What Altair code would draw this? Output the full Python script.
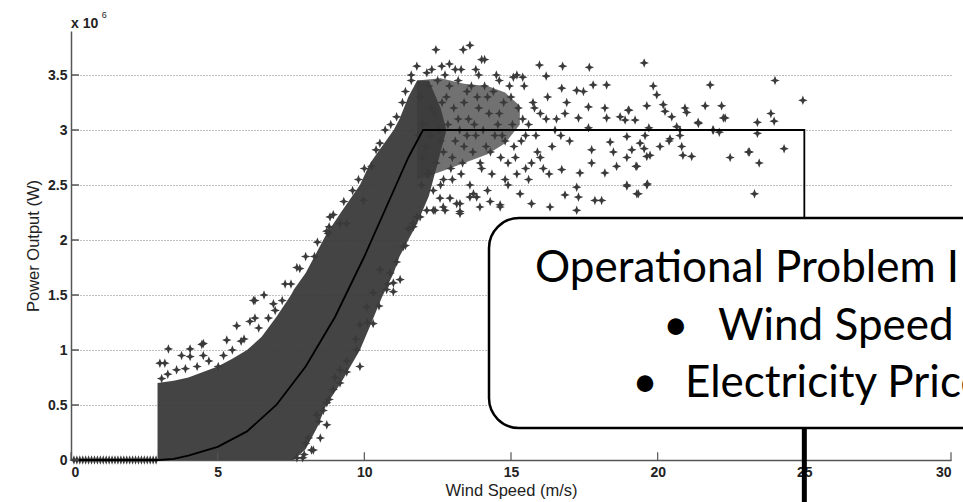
import altair as alt
import pandas as pd

# ---------------- data (power in units of 10^6 W) ----------------
x_ticks = [0, 5, 10, 15, 20, 25, 30]
y_ticks = [0, 0.5, 1, 1.5, 2, 2.5, 3, 3.5]

# manufacturer power curve
curve_x = [0, 3, 3.5, 4, 5, 6, 7, 8, 9, 10, 11, 11.5, 12, 25, 25]
curve_y = [0, 0, 0.01, 0.04, 0.12, 0.26, 0.5, 0.85, 1.3, 1.85, 2.45, 2.75, 3.0, 3.0, 0]

# dense core of the measured cloud (lower / upper edge per wind speed)
core_x = [2.95, 3.5, 4.0, 4.5, 5.0, 5.5, 6.0, 6.5, 7.0, 7.5, 7.6, 8.0, 8.4, 8.7, 9.2, 9.85, 10.2, 10.6, 11.0, 11.2, 11.5, 11.8, 12.2, 12.6, 12.8]
core_lo = [0, 0, 0, 0, 0, 0, 0, 0, 0, 0, 0, 0.1, 0.3, 0.5, 0.7, 1.0, 1.22, 1.48, 1.7, 1.85, 2.0, 2.15, 2.4, 2.8, 3.0]
core_hi = [0.7, 0.72, 0.75, 0.8, 0.85, 0.92, 1.0, 1.12, 1.3, 1.5, 1.55, 1.7, 1.9, 2.05, 2.25, 2.5, 2.7, 2.85, 3.0, 3.1, 3.3, 3.45, 3.45, 3.2, 3.0]

# looser cluster above rated power
clus_x = [11.8, 12.6, 13.4, 14.2, 14.8, 15.3]
clus_lo = [2.55, 2.62, 2.7, 2.78, 2.88, 3.05]
clus_hi = [3.45, 3.47, 3.42, 3.4, 3.34, 3.22]

# individual measurements around the cloud
pts_x = [
    0.1, 0.2, 0.3, 0.4, 0.5, 0.6, 0.7, 0.8, 0.9, 1.0, 1.1, 1.2, 1.3, 1.4, 1.5, 1.6, 1.7, 1.8, 1.9,
    2.0, 2.1, 2.2, 2.3, 2.4, 2.5, 2.6, 2.7, 2.8, 2.9,
    3.03, 3.2, 3.32, 3.09, 3.77, 4.06, 4.06, 4.46, 4.51, 5.02, 5.31, 5.65, 6.1, 6.27, 6.58,
    6.27, 6.73, 6.96, 6.22, 7.8, 4.51, 3.6, 4.3, 5.5, 5.9, 7.2, 7.5,
    7.7, 8.2, 8.26, 8.38, 8.72, 8.72, 8.94, 9.17, 9.17, 9.74, 9.85, 9.85, 10.3, 10.08, 10.3,
    10.76, 10.99, 11.22, 10.53, 10.88, 10.99, 11.33, 8.0, 7.95, 8.5, 9.4, 8.6,
    8.83, 9.17, 8.72, 9.97, 8.94, 8.77, 9.4, 10.25, 10.53, 10.71, 11.1, 11.79, 12.13, 12.64,
    8.3, 9.6, 10.0, 11.4, 11.6,
    3.3, 3.9, 4.7, 5.2, 5.8, 6.4, 6.9, 7.3, 7.7, 8.0, 8.4, 8.8, 9.3, 9.8, 10.4, 10.9, 11.3, 11.6,
    7.9, 8.1, 8.45, 8.8, 9.0, 9.4, 9.7, 10.1, 10.5, 10.8, 11.1, 11.4, 11.5,
    11.67, 11.66, 11.79, 11.9, 12.13, 12.35, 12.41, 12.58, 12.69, 12.75, 12.92, 13.15, 13.26,
    13.26, 13.26, 13.6, 13.72, 13.83, 13.94, 14.29, 14.63, 14.63, 15.31, 15.7, 16.33,
    12.44, 13.37, 13.6, 14.0, 14.1, 15.08, 15.4, 15.97, 16.2, 16.76, 17.67, 12.9, 13.1, 14.5, 13.8,
    16.73, 17.24, 17.47, 17.8, 18.26, 17.64, 18.2, 18.26, 18.72, 19.0, 17.3, 16.84, 17.64, 18.38,
    18.49, 17.75, 17.75, 17.35, 16.73, 18.2, 18.6, 19.29, 19.63, 18.95, 19.29, 17.24, 16.84, 17.3,
    17.86, 18.09, 17.24, 16.3, 16.0, 15.6, 16.5, 17.0, 15.2, 14.8,
    19.54, 19.85, 19.97, 21.79, 24.0, 24.95, 19.63, 20.19, 20.25, 20.48, 20.93, 20.99, 21.62,
    22.18, 22.3, 21.38, 20.65, 19.7, 19.23, 18.89, 19.02, 21.88, 22.1, 23.4, 23.86, 23.97, 23.4,
    20.76, 18.95, 19.57, 19.12, 19.54, 20.08, 20.39, 20.82, 20.86, 21.16, 19.63, 19.74, 18.95,
    19.26, 22.47, 23.13, 23.46, 24.31, 18.95, 19.65, 19.34, 23.3, 23.09, 22.24, 21.39, 21.9,
    20.76, 20.42, 19.4,
    12.3, 12.8, 13.2, 13.5, 13.9, 14.2, 14.6, 15.0, 15.4, 15.8, 12.6, 13.0, 13.4, 13.8, 14.3,
    14.7, 15.1, 15.5, 15.9, 16.2, 12.2, 12.7, 13.3, 14.0, 14.9,
    11.9, 12.0, 12.1, 12.2, 12.25, 12.4, 12.45, 12.5, 12.55, 12.65, 12.7, 12.85, 12.9, 12.95,
    13.05, 13.1, 13.2, 13.25, 13.35, 13.4, 13.5, 13.55, 13.65, 13.7, 13.75, 13.85, 13.95, 14.05,
    14.1, 14.15, 14.25, 14.35, 14.4, 14.45, 14.55, 14.65, 14.75, 14.8, 14.95, 15.05, 15.15, 15.25,
    15.35, 15.45, 15.6, 15.7, 15.75, 15.85, 16.0, 16.1, 16.25, 16.4, 16.55, 16.7, 16.9,
    12.15, 12.6, 13.0, 13.6, 14.2, 14.9, 15.5, 11.95, 12.35, 12.0, 11.85, 12.3, 12.75, 13.3,
    13.9, 14.6, 15.2,
]
pts_y = [
    0, 0, 0, 0, 0, 0, 0, 0, 0, 0, 0, 0, 0, 0, 0, 0, 0, 0, 0,
    0, 0, 0, 0, 0, 0, 0, 0, 0, 0,
    0.88, 0.88, 1.01, 0.74, 0.95, 1.01, 0.94, 1.05, 0.95, 0.85, 1.09, 1.22, 1.26, 1.45, 1.5,
    1.29, 1.29, 1.36, 1.45, 1.74, 1.06, 0.82, 0.85, 1.0, 1.1, 1.45, 1.6,
    0.02, 0.09, 0.09, 0.41, 0.32, 0.52, 0.64, 0.82, 0.7, 1.0, 1.23, 0.85, 1.24, 1.39, 1.52,
    1.55, 1.53, 1.64, 1.73, 1.7, 1.61, 1.94, 0.15, 0.05, 0.2, 0.9, 0.45,
    2.21, 2.15, 2.08, 2.36, 2.23, 2.06, 2.15, 2.67, 2.88, 3.0, 3.12, 3.58, 3.52, 3.58,
    1.85, 2.45, 2.65, 3.35, 3.45,
    0.78, 0.83, 0.9, 0.95, 1.08, 1.2, 1.42, 1.6, 1.75, 1.85, 1.98, 2.12, 2.35, 2.55, 2.82, 3.05, 3.25, 3.5,
    0.02, 0.2, 0.35, 0.55, 0.75, 0.8, 1.1, 1.25, 1.4, 1.6, 1.8, 1.95, 2.1,
    2.12, 2.15, 2.21, 2.21, 2.27, 2.27, 2.27, 2.38, 2.3, 2.27, 2.38, 2.33, 2.24,
    2.26, 2.33, 2.39, 2.42, 2.39, 2.3, 2.35, 2.32, 2.3, 2.42, 2.33, 2.3,
    3.73, 3.73, 3.77, 3.64, 3.64, 3.48, 3.48, 3.59, 3.49, 3.58, 3.57, 3.6, 3.55, 3.5, 3.55,
    3.38, 3.36, 3.35, 3.41, 3.41, 3.21, 3.2, 3.11, 3.12, 3.18, 3.11, 3.15, 3.02, 2.89,
    2.8, 2.82, 2.7, 2.61, 2.64, 2.61, 2.67, 2.67, 2.5, 2.5, 2.42, 2.48, 2.41, 2.39,
    2.36, 2.36, 2.27, 2.6, 2.75, 2.55, 3.0, 2.9, 2.6, 2.55,
    3.61, 3.40, 3.32, 3.41, 3.45, 3.27, 3.22, 3.23, 3.17, 3.12, 3.2, 3.16, 3.22,
    3.22, 3.11, 3.07, 3.03, 3.02, 3.09, 3.09, 3.18, 3.0, 2.98, 3.07, 3.15, 3.08, 2.97,
    2.95, 2.94, 2.95, 2.82, 2.83, 2.85, 2.9, 2.85, 2.77, 2.76, 2.76, 2.77, 2.75,
    2.67, 2.75, 2.8, 2.7, 2.83, 2.49, 2.51, 2.42, 2.42, 2.8, 3.11, 3.06, 3.0,
    3.0, 2.92, 2.88,
    3.2, 3.3, 3.1, 3.35, 3.2, 3.3, 3.15, 3.3, 3.1, 3.2, 2.9, 2.75, 2.85, 2.95, 2.8,
    2.95, 2.85, 2.95, 2.8, 3.1, 2.6, 2.55, 2.6, 2.65, 2.7,
    3.3, 3.05, 2.85, 3.4, 2.95, 3.15, 2.7, 3.45, 3.0, 3.25, 2.8, 3.05, 3.4, 2.65,
    3.2, 2.9, 3.45, 3.0, 2.7, 3.25, 2.95, 3.1, 3.4, 2.8, 3.05, 3.3, 2.7, 3.0,
    3.4, 2.85, 3.15, 2.6, 3.35, 2.95, 3.05, 2.75, 3.25, 2.9, 3.4, 3.05, 2.75, 3.2,
    2.9, 3.4, 3.05, 2.7, 3.25, 2.95, 3.15, 2.65, 3.3, 2.85, 3.1, 2.95, 3.25,
    2.6, 2.5, 2.55, 2.5, 2.45, 2.5, 2.65, 2.5, 2.45, 2.75, 2.95, 3.55, 3.5, 3.55,
    3.5, 3.45, 3.5,
]

callout_title = "Operational Problem I"
callout_items = ["Wind Speed", "Electricity Price"]

# ---------------- tables ----------------
curve_df = pd.DataFrame({"x": curve_x, "y": curve_y, "i": list(range(len(curve_x)))})
core_df = pd.DataFrame({"x": core_x, "lo": core_lo, "hi": core_hi})
clus_df = pd.DataFrame({"x": clus_x, "lo": clus_lo, "hi": clus_hi})
pts_df = pd.DataFrame({"x": pts_x, "y": pts_y})
xt_df = pd.DataFrame({"x": x_ticks})
yt_df = pd.DataFrame({"y": y_ticks})

xs = alt.Scale(domain=[0, 30], nice=False, zero=False)
ys = alt.Scale(domain=[0, 3.9], nice=False, zero=False)
GREY = "#3a3a3a"
STAR = "M0,-1L0.28,-0.28L1,0L0.28,0.28L0,1L-0.28,0.28L-1,0L-0.28,-0.28Z"

x_axis = alt.Axis(values=x_ticks, title="Wind Speed (m/s)", grid=False, labelPadding=5,
                  titlePadding=3, format="d")
y_axis = alt.Axis(values=y_ticks, title="Power Output (W)", grid=True, gridDash=[1, 2],
                  gridColor="#808080", gridWidth=1, labelPadding=4, titlePadding=6,
                  labelExpr="format(datum.value, '~g')")


def X(f):
    return alt.X(f, scale=xs, axis=x_axis)


def Y(f):
    return alt.Y(f, scale=ys, axis=y_axis)


def XD(v):
    return alt.datum(v, scale=xs, axis=x_axis)


def YD(v):
    return alt.datum(v, scale=ys, axis=y_axis)


core = alt.Chart(core_df).mark_area(color=GREY, opacity=0.95).encode(
    x=X("x:Q"), y=Y("lo:Q"), y2="hi:Q")
clus = alt.Chart(clus_df).mark_area(color=GREY, opacity=0.72).encode(
    x=X("x:Q"), y=Y("lo:Q"), y2="hi:Q")
pts = alt.Chart(pts_df).mark_point(shape=STAR, filled=True, color=GREY, size=90, opacity=1).encode(
    x=X("x:Q"), y=Y("y:Q"))
curve = alt.Chart(curve_df).mark_line(color="black", strokeWidth=1.8).encode(
    x=X("x:Q"), y=Y("y:Q"), order="i:Q")
xticks = alt.Chart(xt_df).mark_rule(color="#555", strokeWidth=1.2).encode(
    x=X("x:Q"), y=YD(0), y2=alt.datum(0.07))
yticks = alt.Chart(yt_df).mark_rule(color="#555", strokeWidth=1.5).encode(
    y=Y("y:Q"), x=XD(0), x2=alt.datum(0.27))

one = pd.DataFrame({"a": [0]})


def label(text, x, y, **kw):
    return alt.Chart(one).mark_text(align="left", baseline="alphabetic", text=text, **kw).encode(
        x=XD(x), y=YD(y))


mult = label("x 10", 0.0, 3.93, font="Liberation Sans", fontSize=14, fontWeight="bold", color="#222")
mult_exp = label("6", 1.05, 4.02, font="Liberation Sans", fontSize=9, color="#222")

box = alt.Chart(one).mark_rect(fill="white", stroke="black", strokeWidth=2.5, cornerRadius=30).encode(
    x=XD(14.25), x2=alt.datum(32), y=YD(2.2), y2=alt.datum(0.29))

FONT = "Lato"
FS = 44
t1 = label(callout_title, 15.82, 1.62, font=FONT, fontSize=FS, color="black")
b2 = label("•", 20.18, 1.09, font=FONT, fontSize=FS, color="black")
t2 = label(callout_items[0], 22.06, 1.09, font=FONT, fontSize=FS, color="black")
b3 = label("•", 19.13, 0.573, font=FONT, fontSize=FS, color="black")
t3 = label(callout_items[1], 20.93, 0.573, font=FONT, fontSize=FS, color="black")

connector = alt.Chart(one).mark_rule(color="black", strokeWidth=5).encode(
    x=XD(25), y=YD(0.29), y2=alt.datum(-0.6))

chart = alt.layer(
    core, clus, pts, curve, xticks, yticks, mult, mult_exp, box, t1, b2, t2, b3, t3, connector
).properties(
    width=880, height=429,
    padding={"left": 71, "top": 31, "right": 12, "bottom": 42},
    autosize=alt.AutoSizeParams(type="none"),
    background="white",
).configure_view(stroke=None).configure_axis(
    domainColor="#555", domainWidth=1.5, ticks=False,
    labelFont="Liberation Sans", labelFontSize=14, labelFontWeight="bold", labelColor="#222",
    titleFont="Liberation Sans", titleFontSize=16.5, titleFontWeight="normal", titleColor="#222",
)

chart.save("out.html", embed_options={"renderer": "svg", "actions": False})
